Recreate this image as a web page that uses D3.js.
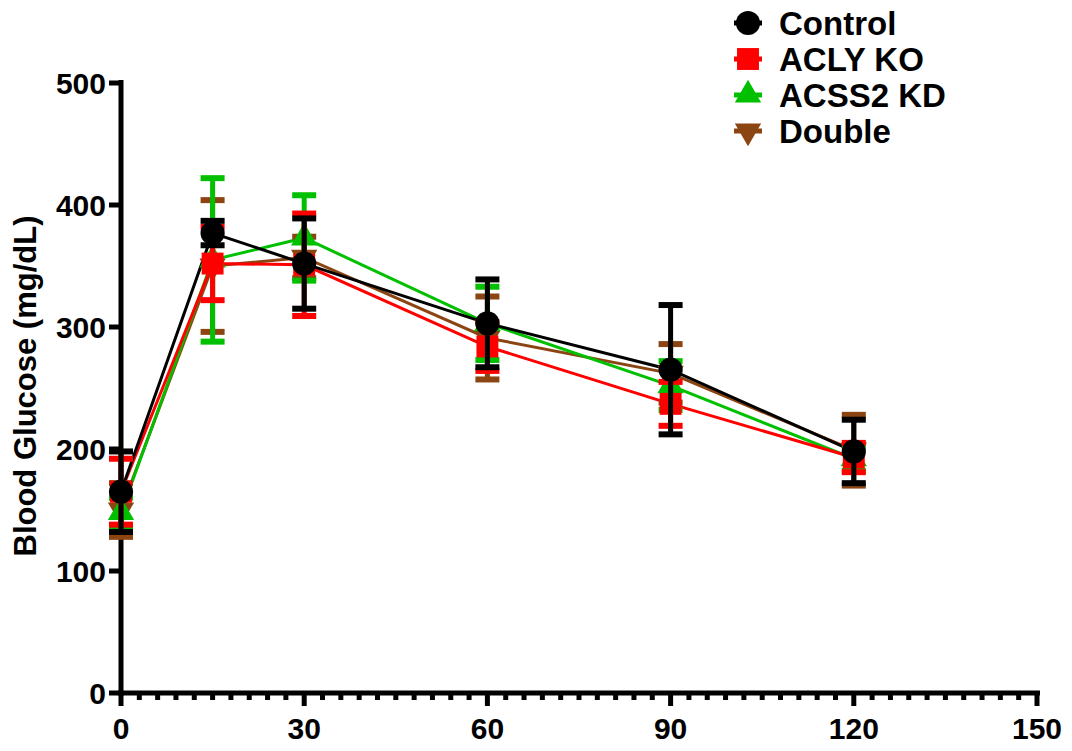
<!DOCTYPE html>
<html><head><meta charset="utf-8">
<script src="https://cdn.jsdelivr.net/npm/d3@7"></script>
<style>body{margin:0;background:#fff}svg{display:block}text{font-family:"Liberation Sans",Arial,sans-serif;font-weight:bold}</style>
</head><body>
<svg id="c" width="1072" height="751"></svg>
<script>
const times = [0, 15, 30, 60, 90, 120];
const seriesNames = ["Control", "ACLY KO", "ACSS2 KD", "Double"];
const controlMean = [165, 377, 352, 303, 265, 198];
const controlErr  = [33, 10, 37, 36, 53, 26];
const aclyMean = [165, 352, 351, 284, 237, 193];
const aclyErr  = [27, 30, 42, 20, 18, 12];
const acss2Mean = [148, 355, 373, 303, 252, 192];
const acss2Err  = [12, 67, 35, 30, 20, 10];
const doubleMean = [150, 350, 357, 291, 262, 199];
const doubleErr  = [22, 54, 17, 34, 24, 29];
const xTicks = [0, 30, 60, 90, 120, 150];
const yTicks = [0, 100, 200, 300, 400, 500];
const colors = ["#000000", "#ff0000", "#00c000", "#8b4513"];
const shapes = ["circle", "square", "triangle", "triangleDown"];

const series = [
  {name: seriesNames[0], mean: controlMean, err: controlErr, color: colors[0], shape: shapes[0]},
  {name: seriesNames[1], mean: aclyMean, err: aclyErr, color: colors[1], shape: shapes[1]},
  {name: seriesNames[2], mean: acss2Mean, err: acss2Err, color: colors[2], shape: shapes[2]},
  {name: seriesNames[3], mean: doubleMean, err: doubleErr, color: colors[3], shape: shapes[3]}
];

const svg = d3.select("#c");
const x = d3.scaleLinear().domain([0, 150]).range([121, 1037]);
const y = d3.scaleLinear().domain([0, 500]).range([693, 83]);

function symbolPath(shape) {
  const map = {circle: d3.symbolCircle, square: d3.symbolSquare, triangle: d3.symbolTriangle, triangleDown: d3.symbolTriangle};
  const size = {circle: 460, square: 480, triangle: 300, triangleDown: 300}[shape];
  return d3.symbol().type(map[shape]).size(size)();
}

// axes
const xAxis = svg.append("g").attr("transform", `translate(0,${y(0)})`);
xAxis.selectAll("line.minor").data(d3.range(0, 151, 3).filter(v => v % 30 !== 0)).join("line")
  .attr("x1", d => x(d)).attr("x2", d => x(d)).attr("y1", 0).attr("y2", 7)
  .attr("stroke", "#000").attr("stroke-width", 5);
xAxis.selectAll("line.major").data(xTicks).join("line")
  .attr("x1", d => x(d)).attr("x2", d => x(d)).attr("y1", 0).attr("y2", 13)
  .attr("stroke", "#000").attr("stroke-width", 5);
xAxis.append("line").attr("x1", x(0) - 3).attr("x2", x(150) + 3).attr("y1", 0).attr("y2", 0)
  .attr("stroke", "#000").attr("stroke-width", 5);
xAxis.selectAll("text").data(xTicks).join("text")
  .attr("x", d => x(d)).attr("y", 46).attr("text-anchor", "middle")
  .attr("font-size", 30).text(d => d);

const yAxis = svg.append("g").attr("transform", `translate(${x(0)},0)`);
yAxis.selectAll("line.tick").data(yTicks).join("line")
  .attr("x1", -12).attr("x2", 0).attr("y1", d => y(d)).attr("y2", d => y(d))
  .attr("stroke", "#000").attr("stroke-width", 5);
yAxis.append("line").attr("x1", 0).attr("x2", 0).attr("y1", y(500) - 3).attr("y2", y(0) + 3)
  .attr("stroke", "#000").attr("stroke-width", 5);
yAxis.selectAll("text").data(yTicks).join("text")
  .attr("x", -15).attr("y", d => y(d)).attr("dy", "0.35em").attr("text-anchor", "end")
  .attr("font-size", 30).text(d => d);

svg.append("text").attr("transform", `translate(36,${(y(0)+y(500))/2 - 2}) rotate(-90)`)
  .attr("text-anchor", "middle").attr("font-size", 31).text("Blood Glucose (mg/dL)");

// lines
const line = d3.line().x((d, i) => x(times[i])).y(d => y(d));
const drawOrder = [3, 2, 1, 0];
drawOrder.forEach(si => {
  const s = series[si];
  svg.append("path").attr("d", line(s.mean)).attr("fill", "none")
    .attr("stroke", s.color).attr("stroke-width", 3);
});
// error bars + symbols
drawOrder.forEach(si => {
  const s = series[si];
  const g = svg.append("g");
  times.forEach((t, i) => {
    const cx = x(t), hi = y(s.mean[i] + s.err[i]), lo = y(s.mean[i] - s.err[i]);
    g.append("line").attr("x1", cx).attr("x2", cx).attr("y1", hi).attr("y2", lo)
      .attr("stroke", s.color).attr("stroke-width", 5);
    [hi, lo].forEach(yy => g.append("line").attr("x1", cx - 12).attr("x2", cx + 12)
      .attr("y1", yy).attr("y2", yy).attr("stroke", s.color).attr("stroke-width", 6));
    g.append("path").attr("d", symbolPath(s.shape))
      .attr("transform", `translate(${cx},${y(s.mean[i])})` + (s.shape === "triangleDown" ? " rotate(180)" : ""))
      .attr("fill", s.color);
  });
});

// legend
const legY = [23, 59, 95, 131];
series.forEach((s, i) => {
  const g = svg.append("g").attr("transform", `translate(748,${legY[i]})`);
  g.append("line").attr("x1", -14).attr("x2", 14).attr("y1", 0).attr("y2", 0)
    .attr("stroke", s.color).attr("stroke-width", 5);
  g.append("path").attr("d", symbolPath(s.shape))
    .attr("transform", s.shape === "triangleDown" ? "rotate(180)" : null).attr("fill", s.color);
  g.append("text").attr("x", 31).attr("y", 0).attr("dy", "0.36em")
    .attr("font-size", 33).text(s.name);
});
</script>
</body></html>
